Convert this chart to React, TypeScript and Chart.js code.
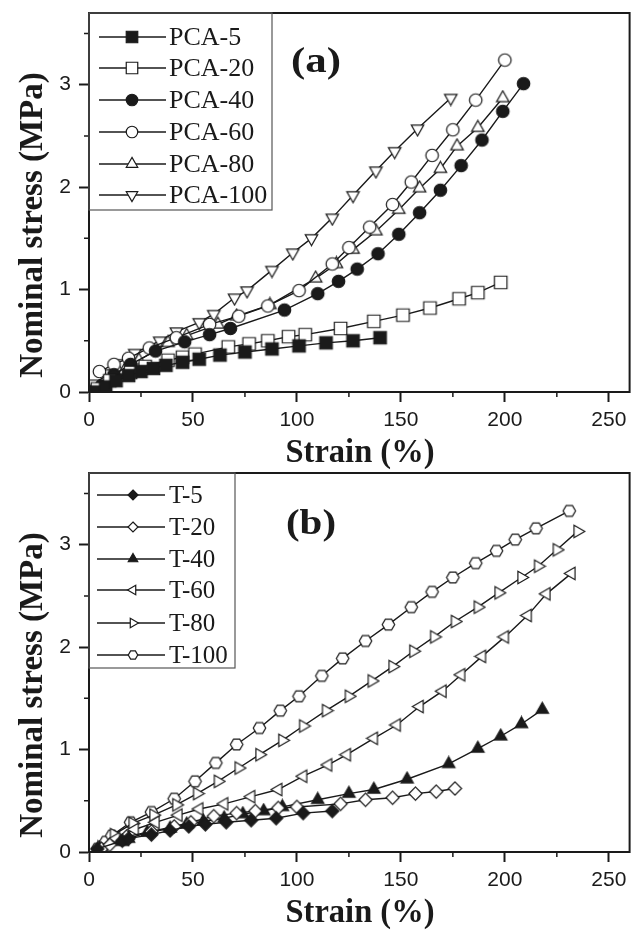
import React, { useEffect, useRef } from 'react';
import { Chart, registerables } from 'chart.js';
Chart.register(...registerables);

// ---------- Panel (a) data ----------
const pca5X = [3, 8, 13, 19, 25, 31, 37, 45, 53, 63, 75, 88, 101, 114, 127, 140];
const pca5Y = [0.0, 0.05, 0.11, 0.16, 0.2, 0.23, 0.26, 0.29, 0.32, 0.36, 0.39, 0.42, 0.45, 0.48, 0.5, 0.53];
const pca20X = [4, 10, 20, 27, 38, 45, 51, 67, 77, 86, 96, 104, 121, 137, 151, 164, 178, 187, 198];
const pca20Y = [0.03, 0.11, 0.19, 0.25, 0.31, 0.34, 0.37, 0.44, 0.47, 0.5, 0.54, 0.56, 0.62, 0.69, 0.75, 0.82, 0.91, 0.97, 1.07];
const pca40X = [6, 12, 20, 32, 46, 58, 68, 94, 110, 120, 129, 139, 149, 159, 169, 179, 189, 199, 209];
const pca40Y = [0.06, 0.17, 0.27, 0.4, 0.49, 0.56, 0.62, 0.8, 0.96, 1.08, 1.2, 1.35, 1.54, 1.75, 1.97, 2.21, 2.46, 2.74, 3.01];
const pca60X = [5, 12, 19, 29, 42, 58, 72, 86, 101, 117, 125, 135, 146, 155, 165, 175, 186, 200];
const pca60Y = [0.2, 0.27, 0.33, 0.43, 0.53, 0.66, 0.74, 0.84, 0.99, 1.25, 1.41, 1.61, 1.83, 2.05, 2.31, 2.56, 2.85, 3.24];
const pca80X = [4, 11, 17, 24, 38, 47, 62, 71, 87, 109, 119, 127, 138, 149, 159, 169, 177, 187, 199];
const pca80Y = [0.03, 0.13, 0.21, 0.31, 0.48, 0.55, 0.66, 0.74, 0.85, 1.11, 1.25, 1.39, 1.57, 1.78, 1.99, 2.18, 2.4, 2.58, 2.87];
const pca100X = [2, 10, 16, 22, 34, 42, 53, 60, 70, 76, 88, 98, 107, 117, 127, 138, 147, 158, 174];
const pca100Y = [0.08, 0.18, 0.28, 0.38, 0.5, 0.59, 0.68, 0.76, 0.92, 0.99, 1.19, 1.36, 1.5, 1.7, 1.92, 2.16, 2.35, 2.57, 2.87];

// ---------- Panel (b) data ----------
const t5X = [4, 16, 19, 30, 39, 48, 56, 66, 78, 90, 103, 117];
const t5Y = [0.03, 0.11, 0.13, 0.17, 0.21, 0.25, 0.27, 0.29, 0.31, 0.33, 0.38, 0.4];
const t20X = [6, 10, 18, 30, 41, 49, 60, 71, 80, 91, 100, 121, 133, 146, 157, 167, 176];
const t20Y = [0.03, 0.07, 0.15, 0.2, 0.25, 0.29, 0.35, 0.38, 0.4, 0.43, 0.44, 0.47, 0.51, 0.53, 0.57, 0.59, 0.62];
const t40X = [5, 16, 19, 28, 39, 47, 55, 65, 74, 84, 93, 110, 125, 137, 153, 173, 187, 198, 208, 218];
const t40Y = [0.03, 0.1, 0.13, 0.19, 0.23, 0.27, 0.3, 0.33, 0.37, 0.4, 0.44, 0.51, 0.57, 0.61, 0.71, 0.86, 1.01, 1.13, 1.25, 1.39];
const t60X = [7, 13, 22, 32, 43, 53, 65, 78, 91, 103, 115, 124, 137, 148, 159, 170, 179, 189, 200, 211, 220, 232];
const t60Y = [0.03, 0.13, 0.22, 0.29, 0.36, 0.42, 0.47, 0.54, 0.61, 0.74, 0.85, 0.95, 1.11, 1.24, 1.42, 1.57, 1.73, 1.91, 2.1, 2.31, 2.52, 2.72];
const t80X = [6, 12, 21, 31, 42, 52, 62, 72, 82, 93, 103, 114, 125, 136, 146, 156, 166, 176, 187, 197, 208, 216, 225, 235];
const t80Y = [0.05, 0.17, 0.28, 0.36, 0.46, 0.57, 0.69, 0.82, 0.95, 1.09, 1.23, 1.38, 1.52, 1.67, 1.81, 1.96, 2.1, 2.25, 2.39, 2.53, 2.68, 2.79, 2.95, 3.13];
const t100X = [4, 8, 11, 20, 30, 41, 51, 61, 71, 82, 92, 101, 112, 122, 133, 144, 155, 165, 175, 186, 196, 205, 215, 231];
const t100Y = [0.03, 0.1, 0.16, 0.29, 0.39, 0.52, 0.69, 0.87, 1.05, 1.21, 1.38, 1.52, 1.72, 1.89, 2.06, 2.22, 2.39, 2.54, 2.68, 2.82, 2.94, 3.05, 3.16, 3.33];

// ---------- Axes ----------
const xMin = 0, xMax = 260, xMajorStep = 50, xMinorStep = 25;
const yMin = 0, yMax = 3.7, yMajorStep = 1, yMinorStep = 0.5;
const xTitle = 'Strain (%)';
const yTitle = 'Nominal stress (MPa)';

const INK = '#1a1a1a';

type Kind = 'square' | 'circle' | 'triUp' | 'triDown' | 'triLeft' | 'triRight' | 'diamond' | 'hexagon';

interface Series { label: string; xs: number[]; ys: number[]; kind: Kind; filled: boolean; }

const seriesA: Series[] = [
  { label: 'PCA-5', xs: pca5X, ys: pca5Y, kind: 'square', filled: true },
  { label: 'PCA-20', xs: pca20X, ys: pca20Y, kind: 'square', filled: false },
  { label: 'PCA-40', xs: pca40X, ys: pca40Y, kind: 'circle', filled: true },
  { label: 'PCA-60', xs: pca60X, ys: pca60Y, kind: 'circle', filled: false },
  { label: 'PCA-80', xs: pca80X, ys: pca80Y, kind: 'triUp', filled: false },
  { label: 'PCA-100', xs: pca100X, ys: pca100Y, kind: 'triDown', filled: false },
];
const seriesB: Series[] = [
  { label: 'T-5', xs: t5X, ys: t5Y, kind: 'diamond', filled: true },
  { label: 'T-20', xs: t20X, ys: t20Y, kind: 'diamond', filled: false },
  { label: 'T-40', xs: t40X, ys: t40Y, kind: 'triUp', filled: true },
  { label: 'T-60', xs: t60X, ys: t60Y, kind: 'triLeft', filled: false },
  { label: 'T-80', xs: t80X, ys: t80Y, kind: 'triRight', filled: false },
  { label: 'T-100', xs: t100X, ys: t100Y, kind: 'hexagon', filled: false },
];

function drawMarker(ctx: CanvasRenderingContext2D, kind: Kind, x: number, y: number, size: number, filled: boolean) {
  ctx.save();
  ctx.beginPath();
  const r = size / 2;
  const poly = (n: number, rad: number, rot: number) => {
    for (let i = 0; i < n; i++) {
      const a = rot + (i * 2 * Math.PI) / n;
      const px = x + Math.sin(a) * rad;
      const py = y - Math.cos(a) * rad;
      if (i === 0) ctx.moveTo(px, py); else ctx.lineTo(px, py);
    }
    ctx.closePath();
  };
  switch (kind) {
    case 'square': ctx.rect(x - r, y - r, size, size); break;
    case 'circle': ctx.arc(x, y, r, 0, Math.PI * 2); break;
    case 'triUp': poly(3, r * 1.15, 0); break;
    case 'triDown': poly(3, r * 1.15, Math.PI); break;
    case 'triLeft': poly(3, r * 1.15, -Math.PI / 2); break;
    case 'triRight': poly(3, r * 1.15, Math.PI / 2); break;
    case 'diamond': poly(4, r * 1.05, 0); break;
    case 'hexagon': poly(6, r, Math.PI / 6); break;
  }
  ctx.fillStyle = filled ? INK : '#ffffff';
  ctx.fill();
  ctx.strokeStyle = INK;
  ctx.lineWidth = 1.2;
  ctx.stroke();
  ctx.restore();
}

function makeMarkerCanvas(kind: Kind, size: number, filled: boolean): HTMLCanvasElement {
  const c = document.createElement('canvas');
  const dim = Math.ceil(size + 4);
  c.width = dim; c.height = dim;
  const ctx = c.getContext('2d')!;
  drawMarker(ctx, kind, dim / 2, dim / 2, size, filled);
  return c;
}

interface PanelCfg {
  id: string;
  series: Series[];
  markerSize: number;
  letter: string;
  letterX: number;
  letterBaseline: number;
  legend: { right: number; bottom: number; rows: number[]; lineX0: number; lineX1: number; markX: number; textX: number; font: string; markerSize: number };
  canvasHeight: number;
  xScaleHeight: number;
}

const panelA: PanelCfg = {
  id: 'a', series: seriesA, markerSize: 12.5, letter: '(a)', letterX: 316, letterBaseline: 72,
  legend: { right: 272, bottom: 210, rows: [37, 68, 100, 132, 164, 195], lineX0: 99, lineX1: 166, markX: 132, textX: 169, font: '26px "Liberation Serif"', markerSize: 11.5 },
  canvasHeight: 475, xScaleHeight: 83,
};
const panelB: PanelCfg = {
  id: 'b', series: seriesB, markerSize: 12.5, letter: '(b)', letterX: 311, letterBaseline: 74,
  legend: { right: 235, bottom: 208, rows: [35, 67, 99, 130, 163, 195], lineX0: 97, lineX1: 165, markX: 133, textX: 169, font: '25px "Liberation Serif"', markerSize: 9.5 },
  canvasHeight: 475, xScaleHeight: 83,
};

function buildConfig(p: PanelCfg): any {
  const datasets = p.series.map((s) => ({
    label: s.label,
    data: s.xs.map((x, i) => ({ x, y: s.ys[i] })),
    borderColor: INK,
    borderWidth: 1.4,
    pointStyle: makeMarkerCanvas(s.kind, p.markerSize, s.filled),
    pointRadius: 6,
    showLine: true,
    tension: 0,
    fill: false,
  }));

  const plugin = {
    id: 'decor_' + p.id,
    afterDraw(chart: any) {
      const { ctx, chartArea: a, scales } = chart;
      ctx.save();
      // frame
      ctx.strokeStyle = INK;
      ctx.lineWidth = 2;
      ctx.strokeRect(a.left, a.top, a.right - a.left, a.bottom - a.top);
      // minor ticks
      ctx.lineWidth = 1.5;
      ctx.beginPath();
      for (let v = xMinorStep; v < xMax; v += xMajorStep) {
        const px = scales.x.getPixelForValue(v);
        ctx.moveTo(px, a.bottom); ctx.lineTo(px, a.bottom + 5);
      }
      for (let v = yMinorStep; v < yMax; v += yMajorStep) {
        const py = scales.y.getPixelForValue(v);
        ctx.moveTo(a.left, py); ctx.lineTo(a.left - 5, py);
      }
      ctx.stroke();

      // axis titles
      ctx.fillStyle = INK;
      ctx.font = 'bold 33px "Liberation Serif"';
      ctx.textAlign = 'center';
      ctx.textBaseline = 'alphabetic';
      const w = ctx.measureText(xTitle).width;
      ctx.save();
      ctx.translate(360, 462);
      ctx.scale(149 / w, 1);
      ctx.fillText(xTitle, 0, 0);
      ctx.restore();

      ctx.save();
      ctx.translate(42, 225);
      ctx.rotate(-Math.PI / 2);
      ctx.fillText(yTitle, 0, 0);
      ctx.restore();

      // panel letter
      ctx.font = 'bold 36px "Liberation Serif"';
      const lw = ctx.measureText(p.letter).width;
      ctx.save();
      ctx.translate(p.letterX, p.letterBaseline);
      ctx.scale(50 / lw, 1);
      ctx.fillText(p.letter, 0, 0);
      ctx.restore();

      // legend
      const L = p.legend;
      ctx.fillStyle = '#ffffff';
      ctx.fillRect(a.left + 1, a.top + 1, L.right - a.left - 1, L.bottom - a.top - 1);
      ctx.strokeStyle = '#555';
      ctx.lineWidth = 1.2;
      ctx.strokeRect(a.left, a.top, L.right - a.left, L.bottom - a.top);
      ctx.font = L.font;
      ctx.textAlign = 'left';
      ctx.textBaseline = 'middle';
      p.series.forEach((s, i) => {
        const yy = L.rows[i];
        ctx.strokeStyle = INK;
        ctx.lineWidth = 1.5;
        ctx.beginPath();
        ctx.moveTo(L.lineX0, yy); ctx.lineTo(L.lineX1, yy);
        ctx.stroke();
        drawMarker(ctx, s.kind, L.markX, yy, L.markerSize, s.filled);
        ctx.fillStyle = INK;
        ctx.fillText(s.label, L.textX, yy + 1);
      });
      ctx.restore();
    },
  };

  const tickFont = { family: '"Liberation Sans", Arial, sans-serif', size: 21 };
  return {
    type: 'line',
    data: { datasets },
    options: {
      animation: false,
      responsive: false,
      maintainAspectRatio: false,
      devicePixelRatio: 1,
      layout: { padding: { top: 13, right: 1, left: 0, bottom: 0 } },
      plugins: { legend: { display: false }, tooltip: { enabled: false }, title: { display: false } },
      scales: {
        x: {
          type: 'linear', min: xMin, max: xMax,
          afterFit: (s: any) => { s.height = p.xScaleHeight; s.paddingLeft = 0; s.paddingRight = 0; },
          ticks: { stepSize: xMajorStep, includeBounds: false, autoSkip: false, maxRotation: 0, padding: 6, color: INK, font: tickFont },
          grid: { drawOnChartArea: false, drawTicks: true, tickLength: 10, tickWidth: 2, tickColor: INK },
          border: { display: true, color: INK, width: 2 },
        },
        y: {
          type: 'linear', min: yMin, max: yMax,
          afterFit: (s: any) => { s.width = 89; s.paddingTop = 0; s.paddingBottom = 0; },
          ticks: { stepSize: yMajorStep, includeBounds: false, padding: 8, color: INK, font: tickFont },
          grid: { drawOnChartArea: false, drawTicks: true, tickLength: 10, tickWidth: 2, tickColor: INK },
          border: { display: true, color: INK, width: 2 },
        },
      },
    },
    plugins: [plugin],
  };
}

function Panel({ cfg, top }: { cfg: PanelCfg; top: number }) {
  const ref = useRef<HTMLCanvasElement | null>(null);
  useEffect(() => {
    if (!ref.current) return;
    const chart = new Chart(ref.current, buildConfig(cfg));
    return () => chart.destroy();
  }, [cfg]);
  return (
    <canvas
      ref={ref}
      width={637}
      height={cfg.canvasHeight}
      style={{ position: 'absolute', left: 0, top, width: 637, height: cfg.canvasHeight, display: 'block' }}
    />
  );
}

export default function App() {
  return (
    <div style={{ position: 'absolute', left: 0, top: 0, width: 637, height: 935, background: '#ffffff' }}>
      <Panel cfg={panelA} top={0} />
      <Panel cfg={panelB} top={460} />
    </div>
  );
}
